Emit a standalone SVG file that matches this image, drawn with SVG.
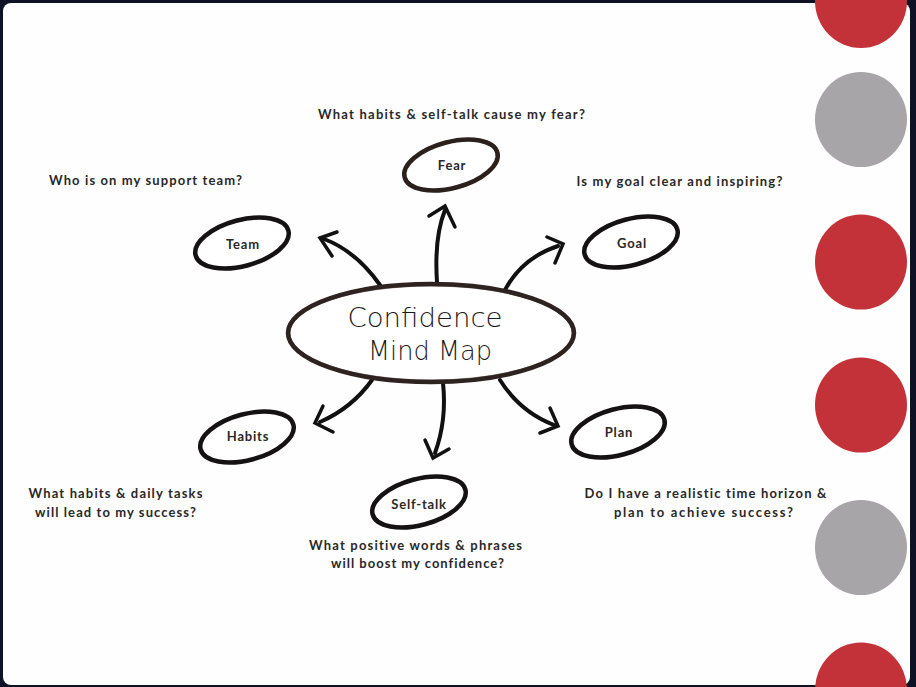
<svg xmlns="http://www.w3.org/2000/svg" width="916" height="687" viewBox="0 0 916 687">
<defs>
<style>
.q{font-family:"Lato","Noto Sans",sans-serif;font-weight:700;font-size:13px;fill:#2a2828;letter-spacing:1.1px;text-anchor:middle}
.lbl{font-family:"Lato","Noto Sans",sans-serif;font-weight:700;font-size:13px;fill:#2a2828;letter-spacing:0.8px;text-anchor:middle}
.node{fill:#fff;stroke:#141212;stroke-width:4.5}
.title{font-family:"DejaVu Sans","Open Sans",sans-serif;font-weight:200;font-size:27px;fill:#1e1a1a;text-anchor:middle}
.arr{fill:none;stroke:#111;stroke-width:4;stroke-linecap:round;stroke-linejoin:round}
.head{fill:none;stroke:#111;stroke-width:3.5;stroke-linecap:round;stroke-linejoin:miter}
.red{fill:#c33239}
.gray{fill:#a7a5a8}
</style>
</defs>
<rect x="0" y="0" width="916" height="687" fill="#0e1224"/>
<rect x="3" y="3" width="907" height="682" rx="8" ry="8" fill="#fefefe"/>
<g id="dots">
<ellipse class="red" cx="861" cy="1" rx="46" ry="47"/>
<ellipse class="gray" cx="861" cy="119.5" rx="46" ry="47.5"/>
<ellipse class="red" cx="861" cy="262" rx="46" ry="47.5"/>
<ellipse class="red" cx="861" cy="405" rx="46" ry="47.5"/>
<ellipse class="gray" cx="861" cy="547.5" rx="46" ry="47.5"/>
<ellipse class="red" cx="861" cy="690" rx="46" ry="47.5"/>
</g>
<g id="connectors">
<path class="arr" d="M380,285 Q356,251 324,239"/>
<polyline class="head" points="337,232 320,238 332,256"/>
<path class="arr" d="M437,282 C435,252 437,230 445,210"/>
<polyline class="head" points="429,216 445,206 455,227"/>
<path class="arr" d="M505,290 Q522,258 558,246"/>
<polyline class="head" points="547,237 563,244 555,263"/>
<path class="arr" d="M372,380 Q352,408 320,422"/>
<polyline class="head" points="323,406 315,423 333,432"/>
<path class="arr" d="M443,383 Q447,420 435,453"/>
<polyline class="head" points="425,440 433,458 449,449"/>
<path class="arr" d="M500,380 Q520,412 554,425"/>
<polyline class="head" points="550,408 558,426 540,433"/>
</g>
<g id="center">
<ellipse cx="431" cy="333" rx="143" ry="49" fill="#fff" stroke="#2e2320" stroke-width="4.5"/>
<ellipse cx="431" cy="333" rx="141" ry="47" fill="none" stroke="#2e2320" stroke-width="1" opacity="0.5"/>
<text class="title" x="425" y="327" textLength="155" lengthAdjust="spacingAndGlyphs">Confidence</text>
<text class="title" x="430" y="360" textLength="124" lengthAdjust="spacingAndGlyphs">Mind Map</text>
</g>
<g id="fear">
<ellipse class="node" cx="451" cy="165" rx="48" ry="23" transform="rotate(-15 451 165)" style="stroke:#2b201c"/>
<text class="lbl" x="452" y="170">Fear</text>
<text class="q" x="452" y="119" textLength="268">What habits &amp; self-talk cause my fear?</text>
</g>
<g id="team">
<ellipse class="node" cx="242" cy="243" rx="48" ry="23" transform="rotate(-15 242 243)"/>
<text class="lbl" x="243" y="249">Team</text>
<text class="q" x="146" y="185" textLength="194">Who is on my support team?</text>
</g>
<g id="goal">
<ellipse class="node" cx="631" cy="242" rx="48" ry="23" transform="rotate(-15 631 242)"/>
<text class="lbl" x="632" y="248">Goal</text>
<text class="q" x="680" y="186" textLength="207">Is my goal clear and inspiring?</text>
</g>
<g id="habits">
<ellipse class="node" cx="247" cy="437" rx="48" ry="23" transform="rotate(-15 247 437)"/>
<text class="lbl" x="248" y="441">Habits</text>
<text class="q" x="116" y="498" textLength="175">What habits &amp; daily tasks</text>
<text class="q" x="116" y="517" textLength="162">will lead to my success?</text>
</g>
<g id="selftalk">
<ellipse class="node" cx="419" cy="502" rx="48" ry="23" transform="rotate(-15 419 502)"/>
<text class="lbl" x="419" y="509">Self-talk</text>
<text class="q" x="416" y="550" textLength="214">What positive words &amp; phrases</text>
<text class="q" x="418" y="568" textLength="174">will boost my confidence?</text>
</g>
<g id="plan">
<ellipse class="node" cx="618" cy="432" rx="48" ry="23" transform="rotate(-15 618 432)"/>
<text class="lbl" x="619" y="437">Plan</text>
<text class="q" x="706" y="498" textLength="243">Do I have a realistic time horizon &amp;</text>
<text class="q" x="704" y="517" textLength="180">plan to achieve success?</text>
</g>
</svg>
